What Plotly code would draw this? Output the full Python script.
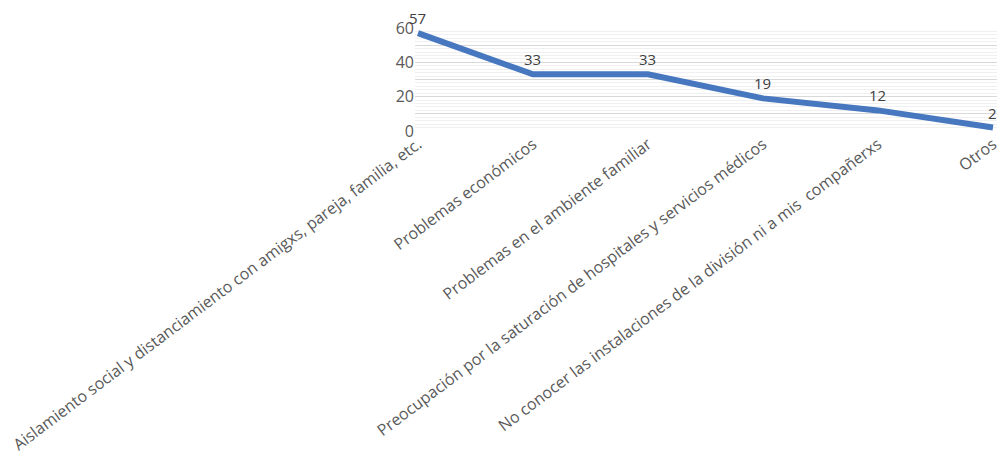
import plotly.graph_objects as go

categories = [
    "Aislamiento social y distanciamiento con amigxs, pareja, familia, etc.",
    "Problemas económicos",
    "Problemas en el ambiente familiar",
    "Preocupación por la saturación de hospitales y servicios médicos",
    "No conocer las instalaciones de la división ni a mis  compañerxs",
    "Otros",
]
values = [57, 33, 33, 19, 12, 2]
y_tick_vals = [0, 10, 20, 30, 40, 50, 60]
y_tick_text = ["0", "", "20", "", "40", "", "60"]

x_idx = list(range(len(categories)))

fig = go.Figure()
fig.add_trace(go.Scatter(
    x=x_idx, y=values, mode="lines",
    line=dict(color="#4677BF", width=6),
    hoverinfo="skip", showlegend=False, cliponaxis=False,
))

for xi, v in zip(x_idx, values):
    fig.add_annotation(x=xi, y=v, text=str(v), showarrow=False, yshift=15,
                       font=dict(family="Open Sans", size=15, color="#404040"))

fig.update_layout(
    width=997, height=457,
    margin=dict(l=415, r=0, t=28, b=326),
    paper_bgcolor="white", plot_bgcolor="white",
    font=dict(family="Open Sans", size=14, color="#595959"),
)
fig.update_xaxes(
    range=[-0.026, 5.035], tickvals=x_idx, ticktext=categories, tickangle=-37,
    showgrid=False, zeroline=False, showline=False, ticks="",
    tickfont=dict(size=16, color="#595959"), automargin=False,
    ticklabeloverflow="allow",
)
fig.update_yaxes(
    range=[0, 60], tickvals=y_tick_vals, ticktext=y_tick_text,
    showgrid=True, gridcolor="#D9D9D9", gridwidth=1,
    minor=dict(dtick=2, showgrid=True, gridcolor="#F0F0F0", gridwidth=1),
    zeroline=False, showline=False, ticks="",
    tickfont=dict(size=16, color="#595959"), automargin=False,
)

fig.write_html("out.html")
